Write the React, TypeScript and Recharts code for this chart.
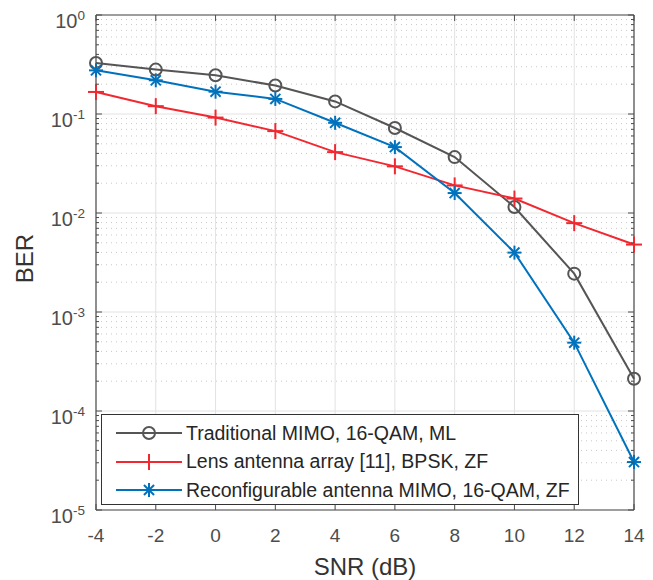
import { LineChart, Line, XAxis, YAxis, ReferenceLine, Legend } from "recharts";

const snr = [-4, -2, 0, 2, 4, 6, 8, 10, 12, 14];
const traditional = [0.327, 0.281, 0.246, 0.194, 0.134, 0.0722, 0.0367, 0.0115, 0.00244, 0.000212];
const lens = [0.167, 0.12, 0.092, 0.0672, 0.0412, 0.0296, 0.019, 0.014, 0.0079, 0.0048];
const reconfig = [0.276, 0.219, 0.168, 0.142, 0.0815, 0.0463, 0.0159, 0.00398, 0.00049, 0.0000305];

const xTicks = [-4, -2, 0, 2, 4, 6, 8, 10, 12, 14];
const decades = [-5, -4, -3, -2, -1, 0];
const mantissas = [2, 3, 4, 5, 6, 7, 8, 9];

const majorTicks = decades.map((d) => Math.pow(10, d));
const minorTicks = decades.slice(0, -1).flatMap((d) => mantissas.map((m) => m * Math.pow(10, d)));
const allTicks = [...majorTicks, ...minorTicks].sort((a, b) => a - b);

const GRAY = "#555555";
const RED = "#f22830";
const BLUE = "#0072BD";
const AXIS = "#4d4d4d";
const FONT = "'Liberation Sans', Arial, Helvetica, sans-serif";

const data = snr.map((x, i) => ({
  snr: x,
  traditional: traditional[i],
  lens: lens[i],
  reconfig: reconfig[i],
}));

type MarkerKind = "circle" | "plus" | "star";

const series: { key: string; name: string; color: string; marker: MarkerKind }[] = [
  { key: "traditional", name: "Traditional MIMO, 16-QAM, ML", color: GRAY, marker: "circle" },
  { key: "lens", name: "Lens antenna array [11], BPSK, ZF", color: RED, marker: "plus" },
  { key: "reconfig", name: "Reconfigurable antenna MIMO, 16-QAM, ZF", color: BLUE, marker: "star" },
];

function Marker({ cx, cy, kind, color }: { cx: number; cy: number; kind: MarkerKind; color: string }) {
  if (kind === "circle") {
    return <circle cx={cx} cy={cy} r={6} fill="none" stroke={color} strokeWidth={2} />;
  }
  if (kind === "plus") {
    const s = 8;
    return (
      <g stroke={color} strokeWidth={2}>
        <line x1={cx - s} y1={cy} x2={cx + s} y2={cy} />
        <line x1={cx} y1={cy - s} x2={cx} y2={cy + s} />
      </g>
    );
  }
  const s = 7;
  const d = s * 0.72;
  return (
    <g stroke={color} strokeWidth={2}>
      <line x1={cx - s} y1={cy} x2={cx + s} y2={cy} />
      <line x1={cx} y1={cy - s} x2={cx} y2={cy + s} />
      <line x1={cx - d} y1={cy - d} x2={cx + d} y2={cy + d} />
      <line x1={cx - d} y1={cy + d} x2={cx + d} y2={cy - d} />
    </g>
  );
}

const isMajor = (v: number) => majorTicks.some((m) => Math.abs(m - v) / m < 1e-6);

function LeftTick(props: any) {
  const { x, y, payload } = props;
  const v = payload.value as number;
  const major = isMajor(v);
  const exp = Math.round(Math.log10(v));
  return (
    <g>
      <line x1={x} y1={y} x2={x + (major ? 6 : 3)} y2={y} stroke={AXIS} strokeWidth={1} />
      {major && (
        <text x={x - 11} y={y + 13} textAnchor="end" fontSize={20} fill={AXIS} fontFamily={FONT}>
          <tspan>10</tspan>
          <tspan dy={-8.5} fontSize={13.5}>{exp}</tspan>
        </text>
      )}
    </g>
  );
}

function RightTick(props: any) {
  const { x, y, payload } = props;
  const major = isMajor(payload.value);
  return <line x1={x} y1={y} x2={x - (major ? 6 : 3)} y2={y} stroke={AXIS} strokeWidth={1} />;
}

function BottomTick(props: any) {
  const { x, y, payload } = props;
  return (
    <g>
      <line x1={x} y1={y} x2={x} y2={y - 6} stroke={AXIS} strokeWidth={1} />
      <text x={x} y={y + 31.5} textAnchor="middle" fontSize={19} fill={AXIS} fontFamily={FONT}>
        {payload.value}
      </text>
    </g>
  );
}

function TopTick(props: any) {
  const { x, y } = props;
  return <line x1={x} y1={y} x2={x} y2={y + 6} stroke={AXIS} strokeWidth={1} />;
}

function LegendBox() {
  return (
    <div
      style={{
        width: 478,
        height: 91,
        border: "1px solid #333",
        background: "#fff",
        fontFamily: FONT,
        fontSize: 19.5,
        color: "#262626",
        boxSizing: "border-box",
        paddingTop: 4,
      }}
    >
      {series.map((s) => (
        <div key={s.key} style={{ display: "flex", alignItems: "center", height: 28.5 }}>
          <svg width={84} height={20} style={{ marginLeft: 12, flexShrink: 0 }}>
            <line x1={2} y1={10} x2={68} y2={10} stroke={s.color} strokeWidth={2} />
            <Marker cx={35} cy={10} kind={s.marker} color={s.color} />
          </svg>
          <span style={{ whiteSpace: "nowrap", marginLeft: -12 }}>{s.name}</span>
        </div>
      ))}
    </div>
  );
}

function YLabel(props: any) {
  const vb = props.viewBox || { x: 36, y: 15, width: 60, height: 495 };
  const cx = vb.x - 12;
  const cy = vb.y + vb.height / 2 - 4;
  return (
    <text x={cx} y={cy} transform={`rotate(-90 ${cx} ${cy})`} textAnchor="middle" dominantBaseline="central" fontSize={24} fill="#333" fontFamily={FONT}>
      BER
    </text>
  );
}

function XLabel(props: any) {
  const vb = props.viewBox || { x: 96, y: 510, width: 538, height: 40 };
  return (
    <text x={vb.x + vb.width / 2} y={vb.y + 65} textAnchor="middle" fontSize={24} fill="#333" fontFamily={FONT}>
      SNR (dB)
    </text>
  );
}

export default function App() {
  return (
    <div style={{ position: "absolute", left: 0, top: 0, width: 653, height: 580, background: "#fff" }}>
      <LineChart
        width={653}
        height={580}
        data={data}
        margin={{ top: 14, right: 18, bottom: 30, left: 36 }}
      >
        {minorTicks.map((v) => (
          <ReferenceLine key={"mn" + v} y={v} yAxisId="left" stroke="#c8c8c8" strokeDasharray="1 4" strokeWidth={1} />
        ))}
        {majorTicks.map((v) => (
          <ReferenceLine key={"mj" + v} y={v} yAxisId="left" stroke="#e2e2e2" strokeWidth={1} />
        ))}
        {xTicks.map((v) => (
          <ReferenceLine key={"vx" + v} x={v} xAxisId="bottom" yAxisId="left" stroke="#e2e2e2" strokeWidth={1} />
        ))}
        <XAxis
          xAxisId="bottom"
          dataKey="snr"
          type="number"
          domain={[-4, 14]}
          ticks={xTicks}
          interval={0}
          tickLine={false}
          tickSize={0}
          tickMargin={0}
          axisLine={{ stroke: AXIS, strokeWidth: 1.2 }}
          tick={<BottomTick />}
          height={40}
          label={<XLabel />}
        />
        <XAxis
          xAxisId="top"
          orientation="top"
          dataKey="snr"
          type="number"
          domain={[-4, 14]}
          ticks={xTicks}
          interval={0}
          tickLine={false}
          tickSize={0}
          tickMargin={0}
          axisLine={{ stroke: AXIS, strokeWidth: 1.2 }}
          tick={<TopTick />}
          height={1}
        />
        <YAxis
          yAxisId="left"
          scale="log"
          type="number"
          domain={[1e-5, 1]}
          ticks={allTicks}
          interval={0}
          allowDataOverflow
          tickLine={false}
          tickSize={0}
          tickMargin={0}
          axisLine={{ stroke: AXIS, strokeWidth: 1.2 }}
          tick={<LeftTick />}
          width={60}
          label={<YLabel />}
        />
        <YAxis
          yAxisId="right"
          orientation="right"
          scale="log"
          type="number"
          domain={[1e-5, 1]}
          ticks={allTicks}
          interval={0}
          allowDataOverflow
          tickLine={false}
          tickSize={0}
          tickMargin={0}
          axisLine={{ stroke: AXIS, strokeWidth: 1.2 }}
          tick={<RightTick />}
          width={1}
        />
        {series.map((s) => (
          <Line
            key={s.key}
            xAxisId="bottom"
            yAxisId="left"
            dataKey={s.key}
            name={s.name}
            stroke={s.color}
            strokeWidth={2}
            isAnimationActive={false}
            dot={(p: any) => <Marker key={s.key + p.index} cx={p.cx} cy={p.cy} kind={s.marker} color={s.color} />}
            activeDot={false}
          />
        ))}
        <Legend
          layout="horizontal"
          verticalAlign="middle"
          align="center"
          content={() => <LegendBox />}
          wrapperStyle={{ position: "absolute", left: 101, top: 414, width: 478, height: 91 }}
        />
      </LineChart>
    </div>
  );
}
